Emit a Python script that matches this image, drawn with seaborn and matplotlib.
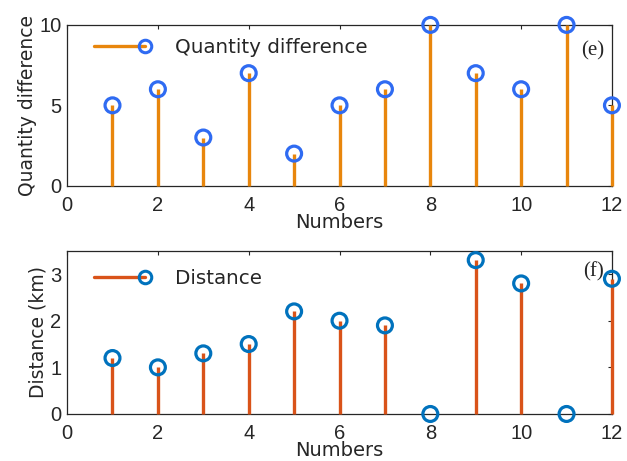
import numpy as np
import pandas as pd
import matplotlib
matplotlib.use("Agg")
import matplotlib.pyplot as plt
import seaborn as sns
from matplotlib.lines import Line2D
from matplotlib.legend_handler import HandlerBase

# -------------------------------
# Data
# -------------------------------
numbers = [1, 2, 3, 4, 5, 6, 7, 8, 9, 10, 11, 12]
quantity_diff = [5, 6, 3, 7, 2, 5, 6, 10, 7, 6, 10, 5]
distance_km = [1.2, 1.0, 1.3, 1.5, 2.2, 2.0, 1.9, 0.0, 3.3, 2.8, 0.0, 2.9]

df = pd.DataFrame({"Numbers": numbers, "Quantity": quantity_diff, "Distance": distance_km})

sns.set_style("white")
plt.rcParams["font.family"] = ["Liberation Sans", "DejaVu Sans"]

# wider sans for the labels (the original text is loosely spaced)
label_font = ["DejaVu Sans"]


class StemHandler(HandlerBase):
    # line with the circle at its right end, like a MATLAB stem legend
    def create_artists(self, legend, orig_handle, xdescent, ydescent,
                       width, height, fontsize, trans):
        y = height / 2 - ydescent
        line = Line2D([-xdescent, width - xdescent], [y, y],
                      color=orig_handle.stem_color, lw=2.4, transform=trans)
        mk = Line2D([width - xdescent], [y], marker="o", ms=9,
                    mfc="none", mec=orig_handle.marker_color, mew=2.2,
                    transform=trans)
        return [line, mk]


class StemProxy:
    def __init__(self, stem_color, marker_color):
        self.stem_color = stem_color
        self.marker_color = marker_color


def stem_panel(ax, ycol, stem_color, marker_color, ylim, yticks, ylabel, tag,
               legend_label, legend_y, tag_y):
    ax.vlines(df["Numbers"], 0, df[ycol], color=stem_color, lw=2.4, zorder=3,
              clip_on=False)
    sns.scatterplot(data=df, x="Numbers", y=ycol, ax=ax, marker="o", s=115,
                    facecolors="none", edgecolor=marker_color, linewidth=2.3,
                    zorder=4, clip_on=False, legend=False)
    ax.set_xlim(0, 12)
    ax.set_ylim(*ylim)
    ax.set_xticks([0, 2, 4, 6, 8, 10, 12])
    ax.set_yticks(yticks)
    ax.tick_params(direction="in", length=3, width=0.8, top=True, right=True,
                   labelsize=14.5, pad=4, colors="#262626")
    ax.tick_params(axis="x", pad=7)
    for s in ax.spines.values():
        s.set_color("#262626")
        s.set_linewidth(0.9)
    ax.set_xlabel("Numbers", fontsize=14, labelpad=-1, family=label_font)
    ax.set_ylabel(ylabel, fontsize=13.5, labelpad=2, family=label_font)
    ax.text(0.985, tag_y, tag, transform=ax.transAxes, ha="right", va="center",
            fontsize=15, family=["Liberation Serif", "DejaVu Serif"])
    proxy = StemProxy(stem_color, marker_color)
    ax.legend([proxy], [legend_label], handler_map={StemProxy: StemHandler()},
              loc="upper left", frameon=False,
              prop={"family": label_font, "size": 14.3},
              handlelength=2.6, handletextpad=1.5,
              bbox_to_anchor=(0.016, legend_y))


fig = plt.figure(figsize=(6.27, 4.61), dpi=100)
ax1 = fig.add_axes([0.107, 0.597, 0.869, 0.349])
ax2 = fig.add_axes([0.107, 0.102, 0.869, 0.354])

stem_panel(ax1, "Quantity", "#E8860C", "#2F6BF2", (0, 10), [0, 5, 10],
           "Quantity difference", "(e)", "Quantity difference", 1.03, 0.84)
stem_panel(ax2, "Distance", "#D95319", "#0072BD", (0, 3.5), [0, 1, 2, 3],
           "Distance (km)", "(f)", "Distance", 1.0, 0.87)

fig.savefig("out.png", dpi=100)
